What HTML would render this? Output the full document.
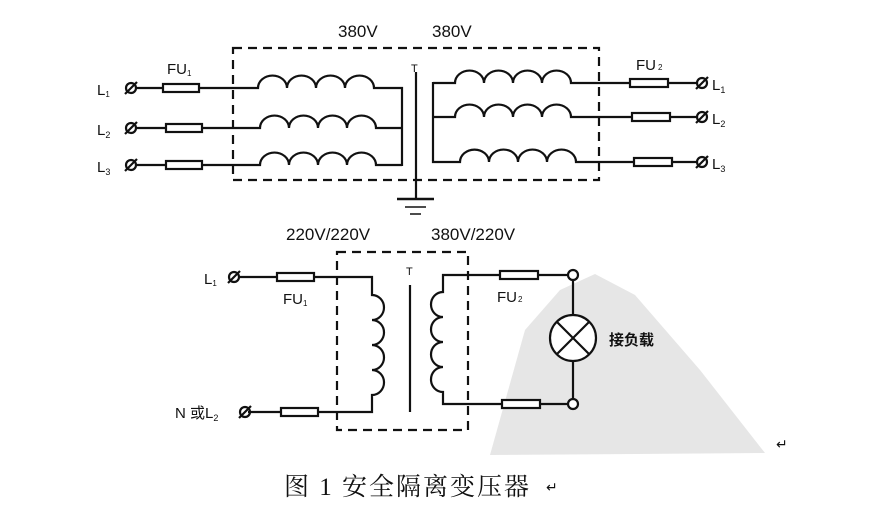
<!DOCTYPE html>
<html><head><meta charset="utf-8"><style>
html,body{margin:0;padding:0;background:#fff;}
svg{display:block;}
text{font-family:"Liberation Sans","Noto Sans CJK SC",sans-serif;fill:#111;}
</style></head><body>
<svg width="872" height="510" viewBox="0 0 872 510" xmlns="http://www.w3.org/2000/svg">
<polygon points="490,455 525,330 560,290 595,274 635,295 700,370 765,453" fill="#e6e6e6"/>
<g stroke="#111" stroke-width="2.2" fill="none">
<rect x="233" y="48" width="366" height="132" stroke-dasharray="9,6"/>
<path d="M135,88 H258 a14,12 0 0 1 29,0 a14,12 0 0 1 29,0 a14,12 0 0 1 29,0 a14,12 0 0 1 29,0 H402 V166"/>
<path d="M135,128 H260 a14,12 0 0 1 29,0 a14,12 0 0 1 29,0 a14,12 0 0 1 29,0 a14,12 0 0 1 29,0 H402"/>
<path d="M135,165 H260 a14,12 0 0 1 29,0 a14,12 0 0 1 29,0 a14,12 0 0 1 29,0 a14,12 0 0 1 29,0 H402"/>
<path d="M433,83 H455 a14,12 0 0 1 29,0 a14,12 0 0 1 29,0 a14,12 0 0 1 29,0 a14,12 0 0 1 29,0 H698"/>
<path d="M433,117 H455 a14,12 0 0 1 29,0 a14,12 0 0 1 29,0 a14,12 0 0 1 29,0 a14,12 0 0 1 29,0 H698"/>
<path d="M433,82 V162 H460 a14,12 0 0 1 29,0 a14,12 0 0 1 29,0 a14,12 0 0 1 29,0 a14,12 0 0 1 29,0 H698"/>
<line x1="416" y1="72" x2="416" y2="199"/>
<line x1="397" y1="199" x2="434" y2="199" stroke-width="2.5"/>
<line x1="405" y1="207" x2="426" y2="207" stroke-width="1.5"/>
<line x1="410" y1="214" x2="421" y2="214" stroke-width="1.5"/>
<rect x="163" y="84" width="36" height="8" fill="#fff"/>
<rect x="166" y="124" width="36" height="8" fill="#fff"/>
<rect x="166" y="161" width="36" height="8" fill="#fff"/>
<rect x="630" y="79" width="38" height="8" fill="#fff"/>
<rect x="632" y="113" width="38" height="8" fill="#fff"/>
<rect x="634" y="158" width="38" height="8" fill="#fff"/>
<circle cx="131" cy="88" r="5"/><line x1="125" y1="94" x2="137" y2="82"/>
<circle cx="131" cy="128" r="5"/><line x1="125" y1="134" x2="137" y2="122"/>
<circle cx="131" cy="165" r="5"/><line x1="125" y1="171" x2="137" y2="159"/>
<circle cx="702" cy="83" r="5"/><line x1="696" y1="89" x2="708" y2="77"/>
<circle cx="702" cy="117" r="5"/><line x1="696" y1="123" x2="708" y2="111"/>
<circle cx="702" cy="162" r="5"/><line x1="696" y1="168" x2="708" y2="156"/>

<rect x="337" y="252" width="131" height="178" stroke-dasharray="9,6"/>
<path d="M238,277 H372 V295 a12,12.5 0 0 1 0,25 a12,12.5 0 0 1 0,25 a12,12.5 0 0 1 0,25 a12,12.5 0 0 1 0,25 V412 H248"/>
<line x1="410" y1="285" x2="410" y2="412"/>
<path d="M573,275 H443 V292 a12,12.5 0 0 0 0,25 a12,12.5 0 0 0 0,25 a12,12.5 0 0 0 0,25 a12,12.5 0 0 0 0,25 V404 H573"/>
<path d="M573,280 V315 M573,361 V399"/>
<circle cx="573" cy="275" r="5" fill="#fff"/>
<circle cx="573" cy="404" r="5" fill="#fff"/>
<circle cx="573" cy="338" r="23" fill="#fff"/>
<path d="M557,322 L589,354 M589,322 L557,354"/>
<rect x="277" y="273" width="37" height="8" fill="#fff"/>
<rect x="281" y="408" width="37" height="8" fill="#fff"/>
<rect x="500" y="271" width="38" height="8" fill="#fff"/>
<rect x="502" y="400" width="38" height="8" fill="#fff"/>
<circle cx="234" cy="277" r="5"/><line x1="228" y1="283" x2="240" y2="271"/>
<circle cx="245" cy="412" r="5"/><line x1="239" y1="418" x2="251" y2="406"/>
</g>
<g font-size="17">
<text x="338" y="37">380V</text>
<text x="432" y="37">380V</text>
<text x="286" y="240">220V/220V</text>
<text x="431" y="240">380V/220V</text>
</g>
<g font-size="15">
<text x="97" y="95">L<tspan font-size="8" dy="2">1</tspan></text>
<text x="97" y="135">L<tspan font-size="9" dy="3">2</tspan></text>
<text x="97" y="172">L<tspan font-size="9" dy="3">3</tspan></text>
<text x="712" y="90">L<tspan font-size="9" dy="3">1</tspan></text>
<text x="712" y="124">L<tspan font-size="9" dy="3">2</tspan></text>
<text x="712" y="169">L<tspan font-size="9" dy="3">3</tspan></text>
<text x="167" y="74">FU<tspan font-size="8" dy="2">1</tspan></text>
<text x="636" y="70">FU<tspan font-size="8" dx="2">2</tspan></text>
<text x="411" y="72" font-size="11">T</text>
<text x="406" y="275" font-size="11">T</text>
<text x="204" y="284">L<tspan font-size="8" dy="2">1</tspan></text>
<text x="283" y="304">FU<tspan font-size="8" dy="2">1</tspan></text>
<text x="497" y="302">FU<tspan font-size="8" dx="1">2</tspan></text>
<text x="175" y="418">N 或L<tspan font-size="9" dy="3">2</tspan></text>
<text x="609" y="345" font-weight="bold">接负载</text>
</g>
<text x="284" y="495" font-size="25" letter-spacing="2" style="font-family:'Liberation Serif','Noto Serif CJK SC',serif">图 1 安全隔离变压器</text>
<text x="546" y="492" font-size="14" fill="#666">↵</text>
<text x="776" y="449" font-size="14" fill="#666">↵</text>
</svg>
</body></html>
